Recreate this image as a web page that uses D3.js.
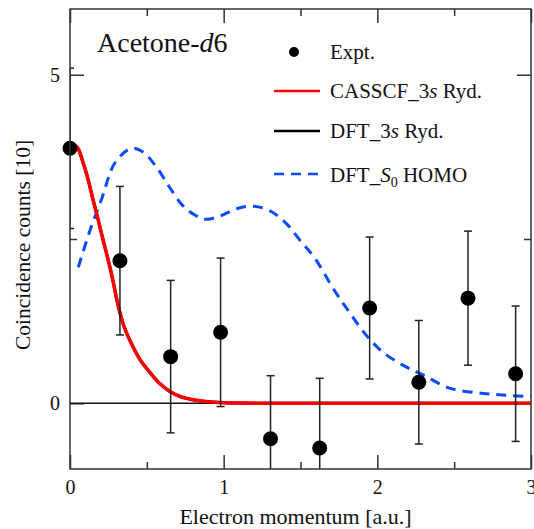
<!DOCTYPE html>
<html>
<head>
<meta charset="utf-8">
<script src="https://cdn.jsdelivr.net/npm/d3@7"></script>
<style>
  body { margin: 0; background: #fff; }
  text { font-family: "Liberation Serif", "Times New Roman", serif; fill: #111; }
</style>
</head>
<body>
<script>

//=========================== data ============================================

// experimental points (momentum, counts, error)
var expX   = [0, 0.325, 0.655, 0.98, 1.305, 1.625, 1.95, 2.27, 2.59, 2.9];
var expY   = [3.88, 2.17, 0.71, 1.08, -0.54, -0.68, 1.45, 0.32, 1.60, 0.45];
var expErr = [1.22, 1.13, 1.16, 1.13, 0.96, 1.06, 1.08, 0.94, 1.02, 1.03];

// CASSCF_3s Ryd.
var casX = [0.035, 0.054, 0.08, 0.108, 0.13, 0.152, 0.175, 0.195, 0.217, 0.239, 0.26, 0.28, 0.31, 0.35, 0.41, 0.46, 0.52, 0.58, 0.65, 0.72, 0.8, 0.9, 1.0, 1.1, 1.3, 1.6, 2.0, 2.5, 3.0];
var casY = [3.92, 3.87, 3.70, 3.49, 3.29, 3.08, 2.87, 2.68, 2.47, 2.27, 2.07, 1.86, 1.52, 1.18, 0.86, 0.65, 0.47, 0.31, 0.18, 0.10, 0.055, 0.025, 0.01, 0.004, 0, 0, 0, 0, 0];

// DFT_3s Ryd. (lies under the CASSCF curve)
var dftX = [0.035, 0.054, 0.08, 0.108, 0.13, 0.152, 0.175, 0.195, 0.217, 0.239, 0.26, 0.28, 0.31, 0.35, 0.41, 0.46, 0.52, 0.58, 0.65, 0.72, 0.8, 0.9, 1.0, 1.1, 1.3, 1.6, 2.0, 2.5, 3.0];
var dftY = [3.92, 3.87, 3.70, 3.49, 3.29, 3.08, 2.87, 2.68, 2.47, 2.27, 2.07, 1.86, 1.52, 1.18, 0.86, 0.65, 0.47, 0.31, 0.18, 0.10, 0.055, 0.025, 0.01, 0.004, 0, 0, 0, 0, 0];

// DFT_S0 HOMO
var homoX = [0.054, 0.13, 0.206, 0.293, 0.40, 0.477, 0.564, 0.65, 0.737, 0.824, 0.889, 0.976, 1.085, 1.19, 1.30, 1.41, 1.50, 1.59, 1.72, 1.82, 1.93, 2.04, 2.19, 2.30, 2.47, 2.69, 2.85, 3.0];
var homoY = [2.07, 2.63, 3.11, 3.66, 3.88, 3.82, 3.59, 3.28, 3.00, 2.85, 2.80, 2.85, 2.96, 3.00, 2.93, 2.73, 2.47, 2.22, 1.72, 1.38, 1.03, 0.77, 0.55, 0.43, 0.23, 0.15, 0.12, 0.10];

var xMajor = [0, 1, 2, 3];
var xMinor = [0.5, 1.5, 2.5];
var yMajor = [0, 5];
var yMinor = [2.5];

//=========================== chart ===========================================

var W = 534, H = 529;
var pLeft = 70, pRight = 531, pTop = 9, pBottom = 469;

var svg = d3.select("body").append("svg")
    .attr("width", W)
    .attr("height", H);

var x = d3.scaleLinear().domain([0, 3]).range([pLeft, pRight]);
var y = d3.scaleLinear().domain([-1, 6]).range([pBottom, pTop]);

svg.append("clipPath").attr("id", "plot")
    .append("rect")
    .attr("x", pLeft).attr("y", pTop)
    .attr("width", pRight - pLeft).attr("height", pBottom - pTop);

var axisColor = "#333";

function styleAxis(g) {
    g.select(".domain").remove();
    g.selectAll(".tick line").attr("stroke", axisColor).attr("stroke-width", 1.5);
    g.selectAll(".tick text")
        .style("font-family", "'Liberation Serif', serif")
        .style("font-size", "20px")
        .attr("fill", "#111");
}

// bottom / top ticks (inward)
svg.append("g").attr("transform", "translate(0," + pBottom + ")")
    .call(d3.axisBottom(x).tickValues(xMajor).tickSize(-14).tickPadding(11).tickFormat(d3.format("d")))
    .call(styleAxis);
svg.append("g").attr("transform", "translate(0," + pBottom + ")")
    .call(d3.axisBottom(x).tickValues(xMinor).tickSize(-7).tickFormat(""))
    .call(styleAxis);
svg.append("g").attr("transform", "translate(0," + pTop + ")")
    .call(d3.axisTop(x).tickValues(xMajor).tickSize(-14).tickFormat(""))
    .call(styleAxis);
svg.append("g").attr("transform", "translate(0," + pTop + ")")
    .call(d3.axisTop(x).tickValues(xMinor).tickSize(-7).tickFormat(""))
    .call(styleAxis);

// left / right ticks (inward)
svg.append("g").attr("transform", "translate(" + pLeft + ",0)")
    .call(d3.axisLeft(y).tickValues(yMajor).tickSize(-14).tickPadding(10).tickFormat(d3.format("d")))
    .call(styleAxis);
svg.append("g").attr("transform", "translate(" + pLeft + ",0)")
    .call(d3.axisLeft(y).tickValues(yMinor).tickSize(-7).tickFormat(""))
    .call(styleAxis);
svg.append("g").attr("transform", "translate(" + pRight + ",0)")
    .call(d3.axisRight(y).tickValues(yMajor).tickSize(-14).tickFormat(""))
    .call(styleAxis);
svg.append("g").attr("transform", "translate(" + pRight + ",0)")
    .call(d3.axisRight(y).tickValues(yMinor).tickSize(-7).tickFormat(""))
    .call(styleAxis);

// zero line
svg.append("line")
    .attr("x1", x(0)).attr("x2", x(3))
    .attr("y1", y(0)).attr("y2", y(0))
    .attr("stroke", "#111").attr("stroke-width", 1.5);

var plot = svg.append("g").attr("clip-path", "url(#plot)");

var line = d3.line()
    .x(d => x(d[0]))
    .y(d => y(d[1]))
    .curve(d3.curveCatmullRom);

// curves
plot.append("path")
    .datum(d3.zip(homoX, homoY))
    .attr("d", line)
    .attr("fill", "none")
    .attr("stroke", "#0a4bff")
    .attr("stroke-width", 3)
    .attr("stroke-dasharray", "10,7");

plot.append("path")
    .datum(d3.zip(dftX, dftY))
    .attr("d", line)
    .attr("fill", "none")
    .attr("stroke", "#000")
    .attr("stroke-width", 3);

plot.append("path")
    .datum(d3.zip(casX, casY))
    .attr("d", line)
    .attr("fill", "none")
    .attr("stroke", "#f00")
    .attr("stroke-width", 3.5);

// error bars
var pts = d3.range(expX.length).map(i => ({x: expX[i], y: expY[i], e: expErr[i]}));

var eb = plot.selectAll(".err").data(pts).enter().append("g").attr("class", "err");
eb.append("line")
    .attr("x1", d => x(d.x)).attr("x2", d => x(d.x))
    .attr("y1", d => y(d.y + d.e)).attr("y2", d => y(d.y - d.e))
    .attr("stroke", "#222").attr("stroke-width", 1.5);
eb.append("line")
    .attr("x1", d => x(d.x) - 4).attr("x2", d => x(d.x) + 4)
    .attr("y1", d => y(d.y + d.e)).attr("y2", d => y(d.y + d.e))
    .attr("stroke", "#222").attr("stroke-width", 1.5);
eb.append("line")
    .attr("x1", d => x(d.x) - 4).attr("x2", d => x(d.x) + 4)
    .attr("y1", d => y(d.y - d.e)).attr("y2", d => y(d.y - d.e))
    .attr("stroke", "#222").attr("stroke-width", 1.5);

svg.selectAll(".dot").data(pts).enter().append("circle")
    .attr("class", "dot")
    .attr("cx", d => x(d.x))
    .attr("cy", d => y(d.y))
    .attr("r", 7.5)
    .attr("fill", "#000");

// frame
svg.append("rect")
    .attr("x", pLeft).attr("y", pTop)
    .attr("width", pRight - pLeft).attr("height", pBottom - pTop)
    .attr("fill", "none")
    .attr("stroke", axisColor)
    .attr("stroke-width", 1.5);

//=========================== labels ==========================================

var title = svg.append("text")
    .attr("x", 97).attr("y", 52)
    .style("font-size", "28px");
title.append("tspan").text("Acetone-");
title.append("tspan").style("font-style", "italic").text("d");
title.append("tspan").text("6");

svg.append("text")
    .attr("x", (pLeft + pRight) / 2 - 5).attr("y", 524)
    .attr("text-anchor", "middle")
    .style("font-size", "22px")
    .text("Electron momentum [a.u.]");

svg.append("text")
    .attr("transform", "translate(30,245) rotate(-90)")
    .attr("text-anchor", "middle")
    .style("font-size", "21.5px")
    .text("Coincidence counts [10]");

// legend
var lg = svg.append("g");
var lx1 = 274, lx2 = 320, tx = 330;

lg.append("circle").attr("cx", 294).attr("cy", 52).attr("r", 5).attr("fill", "#000");
lg.append("text").attr("x", tx).attr("y", 59).style("font-size", "21px").text("Expt.");

lg.append("line").attr("x1", lx1).attr("x2", lx2).attr("y1", 91).attr("y2", 91)
    .attr("stroke", "#f00").attr("stroke-width", 2.5);
var t2 = lg.append("text").attr("x", tx).attr("y", 98).style("font-size", "21px");
t2.append("tspan").text("CASSCF_3");
t2.append("tspan").style("font-style", "italic").text("s");
t2.append("tspan").text(" Ryd.");

lg.append("line").attr("x1", lx1).attr("x2", lx2).attr("y1", 131).attr("y2", 131)
    .attr("stroke", "#000").attr("stroke-width", 2.5);
var t3 = lg.append("text").attr("x", tx).attr("y", 138).style("font-size", "21px");
t3.append("tspan").text("DFT_3");
t3.append("tspan").style("font-style", "italic").text("s");
t3.append("tspan").text(" Ryd.");

lg.append("line").attr("x1", lx1).attr("x2", lx2).attr("y1", 174).attr("y2", 174)
    .attr("stroke", "#0a4bff").attr("stroke-width", 2.5)
    .attr("stroke-dasharray", "10,7");
var t4 = lg.append("text").attr("x", tx).attr("y", 182).style("font-size", "21px");
t4.append("tspan").text("DFT_");
t4.append("tspan").style("font-style", "italic").text("S");
t4.append("tspan").attr("dy", 5).style("font-size", "14px").text("0");
t4.append("tspan").attr("dy", -5).text(" HOMO");

</script>
</body>
</html>
